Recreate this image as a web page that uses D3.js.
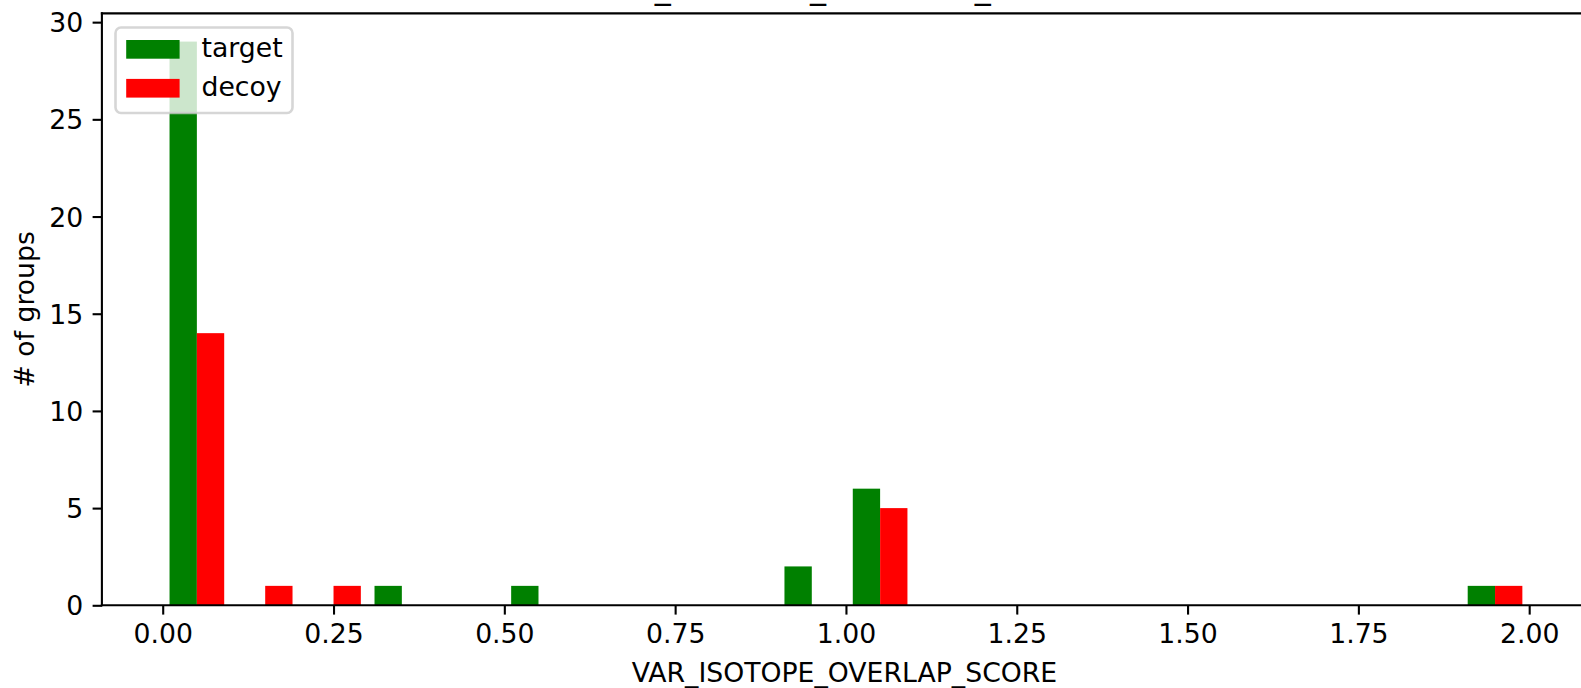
<!DOCTYPE html>
<html>
<head>
<meta charset="utf-8">
<script src="https://cdn.jsdelivr.net/npm/d3@7"></script>
<style>
  html, body { margin: 0; padding: 0; background: #fff; }
  svg { display: block; font-family: "DejaVu Sans", sans-serif; }
</style>
</head>
<body>
<svg id="chart" width="1581" height="688"></svg>
<script>
// ---- data ----
const binEdgesStart = 0.0;
const binWidth = 0.1;
const binCount = 20;
const targetCounts = [29, 0, 0, 1, 0, 1, 0, 0, 0, 2, 6, 0, 0, 0, 0, 0, 0, 0, 0, 1];
const decoyCounts  = [14, 1, 1, 0, 0, 0, 0, 0, 0, 0, 5, 0, 0, 0, 0, 0, 0, 0, 0, 1];
const seriesNames = ["target", "decoy"];
const seriesColors = ["#008000", "#ff0000"];
const xTicks = [0.00, 0.25, 0.50, 0.75, 1.00, 1.25, 1.50, 1.75, 2.00];
const yTicks = [0, 5, 10, 15, 20, 25, 30];
const titleText = "VAR_ISOTOPE_OVERLAP_SCORE";
const xLabelText = "VAR_ISOTOPE_OVERLAP_SCORE";
const yLabelText = "# of groups";

// ---- layout ----
const svg = d3.select("#chart");
const ax = { left: 101.9, right: 1590, top: 13.4, bottom: 605.3 };
const fs = 26.7;       // 10pt
const lw = 2.1;        // spine width
const tickLen = 9.3;

// histogram bar geometry (matplotlib side-by-side, rwidth 0.8)
const dr = 0.8, nx = 2;
const barW = dr * binWidth / nx;
const bars = [];
[targetCounts, decoyCounts].forEach((counts, si) => {
  counts.forEach((c, i) => {
    const left = binEdgesStart + i * binWidth + 0.5 * binWidth * (1 - dr) + si * barW;
    bars.push({ x0: left, x1: left + barW, v: c, s: si });
  });
});
const bx0 = d3.min(bars, d => d.x0), bx1 = d3.max(bars, d => d.x1);
const mx = 0.05 * (bx1 - bx0);
const yMaxData = d3.max(bars, d => d.v);

const x = d3.scaleLinear().domain([bx0 - mx, bx1 + mx]).range([ax.left, ax.right]);
const y = d3.scaleLinear().domain([0, yMaxData * 1.05]).range([ax.bottom, ax.top]);

// bars
svg.append("g").selectAll("rect").data(bars.filter(d => d.v > 0)).join("rect")
  .attr("x", d => x(d.x0))
  .attr("width", d => x(d.x1) - x(d.x0))
  .attr("y", d => y(d.v))
  .attr("height", d => y(0) - y(d.v))
  .attr("fill", d => seriesColors[d.s]);

// axes
const xAxis = d3.axisBottom(x).tickValues(xTicks).tickFormat(d3.format(".2f"))
  .tickSize(tickLen).tickPadding(9.3);
const gx = svg.append("g").attr("transform", `translate(0,${ax.bottom})`).call(xAxis);
gx.select(".domain").remove();
gx.selectAll(".tick line").attr("stroke", "#000").attr("stroke-width", lw);
gx.selectAll(".tick text").attr("font-size", fs).attr("fill", "#000")
  .attr("font-family", "DejaVu Sans").attr("dy", "0.73em");

const yAxis = d3.axisLeft(y).tickValues(yTicks).tickFormat(d3.format("d"))
  .tickSize(tickLen).tickPadding(9.3);
const gy = svg.append("g").attr("transform", `translate(${ax.left},0)`).call(yAxis);
gy.select(".domain").remove();
gy.selectAll(".tick line").attr("stroke", "#000").attr("stroke-width", lw);
gy.selectAll(".tick text").attr("font-size", fs).attr("fill", "#000")
  .attr("font-family", "DejaVu Sans").attr("dy", "0.36em");

// spines (left, bottom, top; right lies outside the picture)
const sp = svg.append("g").attr("stroke", "#000").attr("stroke-width", lw).attr("stroke-linecap", "square");
sp.append("line").attr("x1", ax.left).attr("x2", ax.left).attr("y1", ax.top).attr("y2", ax.bottom);
sp.append("line").attr("x1", ax.left).attr("x2", ax.right).attr("y1", ax.bottom).attr("y2", ax.bottom);
sp.append("line").attr("x1", ax.left).attr("x2", ax.right).attr("y1", ax.top).attr("y2", ax.top);
sp.append("line").attr("x1", ax.right).attr("x2", ax.right).attr("y1", ax.top).attr("y2", ax.bottom);

// title (mostly above the visible area)
svg.append("text").attr("x", (ax.left + ax.right) / 2).attr("y", -2.3)
  .attr("text-anchor", "middle").attr("font-size", fs * 1.2).attr("fill", "#000")
  .text(titleText);

// axis labels
svg.append("text").attr("x", (ax.left + ax.right) / 2 - 1.5).attr("y", 681.5)
  .attr("text-anchor", "middle").attr("font-size", fs).attr("fill", "#000")
  .text(xLabelText);
svg.append("text")
  .attr("transform", `translate(34,${(ax.top + ax.bottom) / 2}) rotate(-90)`)
  .attr("text-anchor", "middle").attr("font-size", fs).attr("fill", "#000")
  .text(yLabelText);

// legend
const lg = svg.append("g");
lg.append("rect").attr("x", 115.5).attr("y", 27.5).attr("width", 177).attr("height", 85.5)
  .attr("rx", 5.5).attr("ry", 5.5)
  .attr("fill", "#fff").attr("fill-opacity", 0.8)
  .attr("stroke", "#cccccc").attr("stroke-opacity", 0.8).attr("stroke-width", 2.6);
seriesNames.forEach((name, i) => {
  const rowY = 40 + i * 38.9;
  lg.append("rect").attr("x", 126.2).attr("y", rowY).attr("width", 53.4).attr("height", 18.7)
    .attr("fill", seriesColors[i]);
  lg.append("text").attr("x", 201.5).attr("y", rowY + 17.3)
    .attr("font-size", fs).attr("fill", "#000").text(name);
});
</script>
</body>
</html>
